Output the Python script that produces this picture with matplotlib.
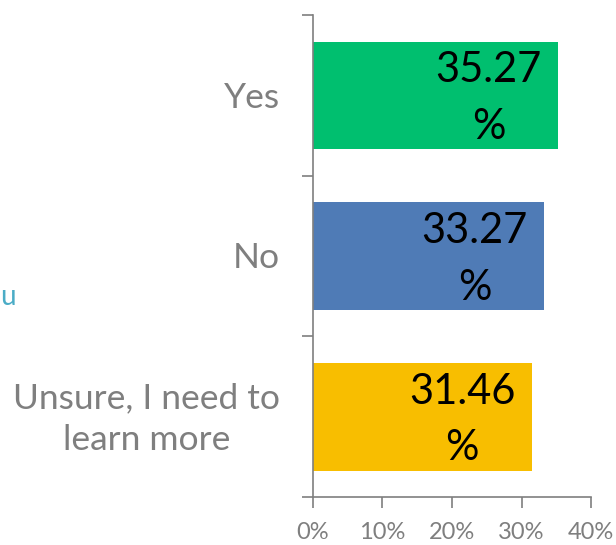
import matplotlib.pyplot as plt
from matplotlib.ticker import FuncFormatter

plt.rcParams['font.family'] = ['Lato', 'DejaVu Sans']

# survey answers, bottom to top
categories = ['Unsure, I need to\nlearn more', 'No', 'Yes']
shares = [31.46, 33.27, 35.27]
colors = ['#F8BE00', '#4F7BB6', '#00BF6F']
x_ticks = [0, 10, 20, 30, 40]

gray = '#7F7F7F'

fig = plt.figure(figsize=(6.16, 5.45), dpi=100)
ax = fig.add_axes([0.508, 0.088, 0.4515, 0.8845])

ypos = range(len(categories))
ax.barh(ypos, shares, height=0.67, color=colors)

for y, v in zip(ypos, shares):
    ax.text(v - 10.0, y - 0.02, f'{v:.2f}\n%', ha='center', va='center',
            fontsize=30, color='black', linespacing=1.6)

# category names, right-aligned block with centred lines
for y, name in zip(ypos, categories):
    ax.text(-0.119, y - 0.015, name, transform=ax.get_yaxis_transform(),
            ha='right', va='center', multialignment='center',
            fontsize=25.5, color=gray, linespacing=1.35)

ax.set_xlim(0, 40)
ax.set_ylim(-0.5, 2.5)
ax.set_xticks(x_ticks)
ax.xaxis.set_major_formatter(FuncFormatter(lambda v, p: f'{v:.0f}%'))

# category boundaries carry the y tick marks
ax.set_yticks([-0.5, 0.5, 1.5, 2.5])
ax.set_yticklabels([])
ax.tick_params(axis='y', length=8, color=gray, width=1.2)
ax.tick_params(axis='x', length=8, color=gray, width=1.2, labelsize=17,
               labelcolor=gray, pad=10)

for side in ('top', 'right'):
    ax.spines[side].set_visible(False)
for side in ('left', 'bottom'):
    ax.spines[side].set_color(gray)
    ax.spines[side].set_linewidth(1.2)

fig.text(0.0, 0.455, 'u', fontsize=20, color='#4BACC6', ha='left', va='center')

fig.savefig('out.png', dpi=100)
